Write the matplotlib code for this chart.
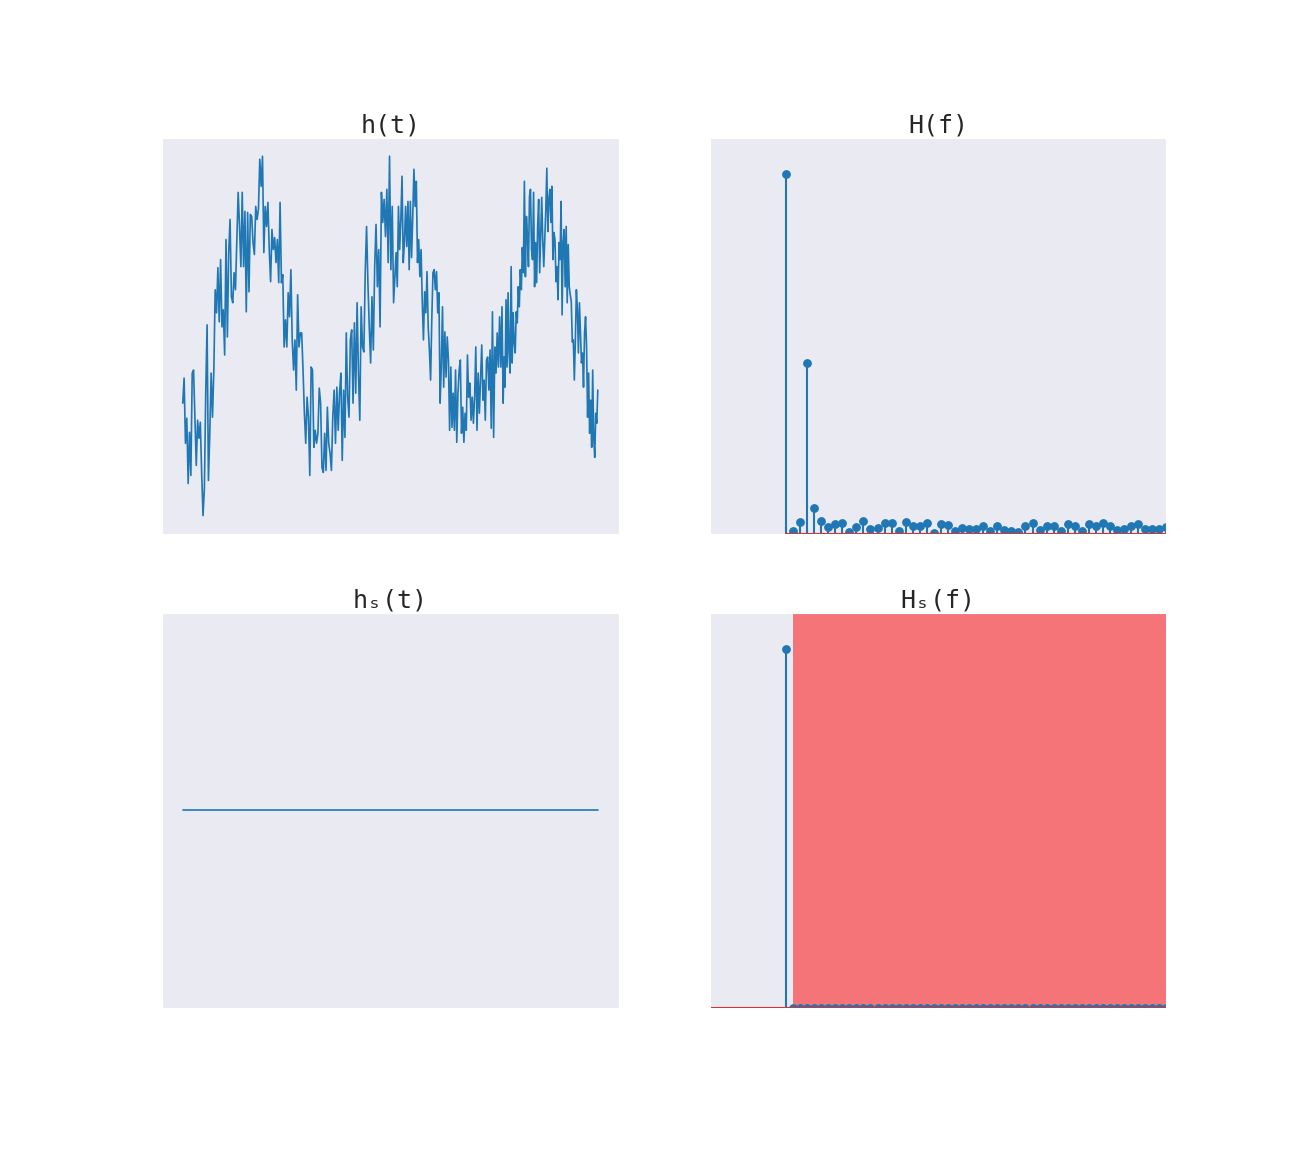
import numpy as np
import matplotlib
matplotlib.use("Agg")
import matplotlib.pyplot as plt
import seaborn as sns

# signal h(t) in three stretches of time
h_a = [-0.68, -0.43, -1.08, -0.83, -1.48, -0.97, -1.40, -0.38, -0.35, -0.83, -1.30, -0.85, -1.03, -0.87,
       -1.38, -1.80, -1.53, -0.58, 0.10, -1.45, -0.98, -0.38, -0.82, -0.35, 0.45, 0.22, 0.67, 0.13, 0.75,
       0.08, 0.25, -0.20, 0.95, -0.02, 0.82, 1.15, 0.38, 0.32, 0.62, 0.45, 0.95, 1.42, 1.08, 0.68, 1.42,
       0.68, 1.23, 0.23, 1.22, 0.43, 1.20, 1.18, 0.92, 0.80, 1.28, 1.15, 1.25, 1.75, 1.48, 1.78, 0.82,
       1.28, 1.08, 1.32, 0.85, 0.53, 1.05, 0.85, 0.97, 0.72, 0.95, 0.52, 1.32, 0.52, 0.60, -0.12, 0.15,
       -0.12, 0.42, 0.18, 0.65, -0.05, -0.35, -0.05, -0.55, 0.40, -0.12, 0.02, 0.02, -0.35, -0.78, -1.08,
       -0.62, -0.82, -1.40, -0.32, -0.35, -1.12, -0.95, -1.08, -0.98, -0.53, -0.68, -1.32, -1.37, -0.98,
       -1.35, -0.72, -1.08, -1.18, -1.35, -0.82, -0.55, -1.08, -0.52, -0.95, -0.58, -0.38, -1.25, -0.55,
       -1.02, 0.02, -0.62, -0.82, -0.05, 0.05, -0.68, 0.12, -0.58, 0.32, -0.38, -0.85, 0.28, -0.12, -0.17,
       0.62, 1.08, 0.52, 0.08, -0.28, 0.38, -0.15, 0.68, 1.10, 0.48, 0.85, 0.08, 1.42, 1.12, 1.35, 0.98,
       1.45, 0.72, 1.78, 0.65, 1.28, 0.32]
h_b = [0.82, 0.48, 1.28, 0.85, 1.15, 1.58, 0.72, 0.92, 1.28, 0.88, 1.33, 0.65, 1.33, 0.77, 1.18, 1.65,
       1.28, 1.53, 0.72, 0.95, 0.58, 0.85, 0.33, -0.05, 0.43, 0.22, 0.63, 0.08, -0.15, -0.45, 0.15, 0.62,
       0.65, 0.45, 0.63, 0.22, 0.42, -0.68, -0.32, 0.28, -0.52, 0.03, -0.42, -0.02, -0.25, -0.95, -0.32,
       -0.92, -0.58, -0.95, -0.35, -1.07, -0.58, -0.35, -0.25, -0.98, -0.72, -1.07, -0.78, -0.95, -0.20,
       -0.62, -0.48, -0.85, -0.62, -0.88, -0.62, -0.12, -0.95, -0.38, -0.78, -0.45, -0.10, -0.65, -0.45,
       -0.85, -0.25, -0.22, -0.55, -0.15, -0.93, 0.23, -1.02, -0.12, -0.38, 0.02, -0.32, 0.18, -0.32,
       0.28, -0.68]
h_c = [-0.22, -0.52, 0.35, -0.32, 0.42, -0.18, -0.38, 0.68, -0.28, 0.22, -0.08, -0.18, 0.23, 0.12,
       0.48, 0.28, 0.65, 0.45, 0.87, 0.62, 1.53, 0.58, 1.18, 0.98, 0.68, 1.38, 1.45, 0.85, 0.75, 1.42,
       0.48, 0.92, 0.52, 1.08, 1.35, 0.62, 0.98, 1.37, 0.95, 0.68, 0.95, 1.25, 1.66, 1.03, 1.35, 1.45,
       1.12, 1.48, 0.75, 1.02, 0.95, 0.53, 0.68, 0.35, 0.92, 0.75, 1.33, 0.20, 0.92, 1.05, 0.48, 1.08,
       0.32, 0.90, 0.48, 0.40, 0.33, -0.07, -0.05, -0.45, -0.05, 0.45, 0.25, -0.18, 0.32, 0.03, -0.28,
       -0.18, -0.52, 0.02, 0.18, -0.12, -0.82, -0.38, -0.98, -0.65, -1.12, -0.35, -1.02, -1.22, -0.78,
       -0.88, -0.55]
# time span (s) covered by each stretch
span_a = (0.0, 0.508)
span_b = (0.514, 0.772)
span_c = (0.774, 1.0)

# spectrum magnitude |H(f)| for frequency bins 0..54
freq_bins = list(range(55))
H_mag = [35.9, 0.3, 1.2, 17.0, 2.6, 1.3, 0.7, 1.0, 1.1, 0.2, 0.7, 1.3, 0.5, 0.6, 1.1, 1.1, 0.3, 1.2,
         0.8, 0.8, 1.1, 0.03, 1.0, 0.9, 0.3, 0.6, 0.5, 0.5, 0.8, 0.3, 0.8, 0.4, 0.3, 0.13, 0.8, 1.1,
         0.4, 0.8, 0.73, 0.3, 0.93, 0.73, 0.3, 0.93, 0.73, 1.1, 0.8, 0.4, 0.47, 0.73, 1.0, 0.47, 0.47,
         0.47, 0.67]
cutoff = 1  # bins from here on are removed

t = np.concatenate([np.linspace(*span_a, len(h_a)),
                    np.linspace(*span_b, len(h_b)),
                    np.linspace(*span_c, len(h_c))])
h = np.concatenate([h_a, h_b, h_c])
f = np.array(freq_bins, dtype=float)
H = np.array(H_mag)
Hs = np.where(f < cutoff, H, 0.0)
hs = np.full_like(h, h.mean())

sns.set_style("darkgrid")
title_font = dict(family=["DejaVu Sans Mono", "DejaVu Sans"], fontsize=18, color="#262626", pad=4)

fig, axes = plt.subplots(2, 2, figsize=(12.96, 11.52), dpi=100)
fig.subplots_adjust(left=0.125, right=0.9, top=0.88, bottom=0.125, wspace=0.2, hspace=0.2)

ax = axes[0, 0]
ax.plot(t, h, color="C0", lw=1.2)
ax.set_title("h(t)", **title_font)

ax = axes[0, 1]
ml, sl, bl = ax.stem(f, H)
ml.set_markersize(5.3)
ax.set_xlim(-0.2 * f[-1], f[-1])
ax.set_ylim(0, 1.1 * H.max())
ax.set_title("H(f)", **title_font)

ax = axes[1, 0]
ax.plot(t, hs, color="C0", lw=1.2)
ax.set_title("hₛ(t)", **title_font)

ax = axes[1, 1]
ax.axvspan(f[cutoff], f[-1], color="red", alpha=0.5, lw=0)
ax.axhline(0, color="C3", lw=1.5)
ml, sl, bl = ax.stem(f, Hs)
ml.set_markersize(5.3)
ax.set_xlim(-0.2 * f[-1], f[-1])
ax.set_ylim(0, 1.1 * Hs.max())
ax.set_title("Hₛ(f)", **title_font)

for ax in axes.flat:
    ax.set_xticks([])
    ax.set_yticks([])

fig.savefig("out.png", dpi=100)
